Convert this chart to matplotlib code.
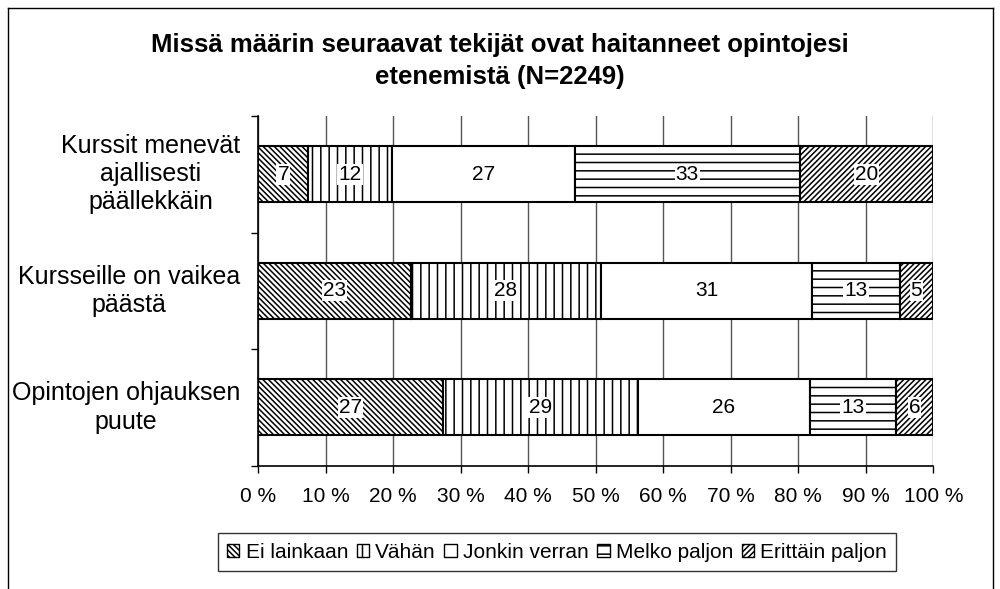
import matplotlib
matplotlib.use("Agg")
import matplotlib.pyplot as plt
import numpy as np
from matplotlib.lines import Line2D
from matplotlib.patches import Patch

plt.rcParams['font.family'] = ['Liberation Sans', 'DejaVu Sans']
plt.rcParams['hatch.linewidth'] = 1.1
plt.rcParams['hatch.color'] = 'black'

title = "Missä määrin seuraavat tekijät ovat haitanneet opintojesi\netenemistä (N=2249)"
categories = ["Kurssit menevät\najallisesti\npäällekkäin",
              "Kursseille on vaikea\npäästä",
              "Opintojen ohjauksen\npuute"]
series_names = ["Ei lainkaan", "Vähän", "Jonkin verran", "Melko paljon", "Erittäin paljon"]
ei_lainkaan = [7.4, 22.6, 27.3]
vahan = [12.4, 28.2, 28.9]
jonkin_verran = [27.1, 31.3, 25.6]
melko_paljon = [33.3, 12.9, 12.6]
erittain_paljon = [19.8, 5.0, 5.6]
xticks = [0, 10, 20, 30, 40, 50, 60, 70, 80, 90, 100]
xtick_labels = [f"{t} %" for t in xticks]

series = [ei_lainkaan, vahan, jonkin_verran, melko_paljon, erittain_paljon]
hatches = ['\\' * 6, '||', '', '--', '/' * 6]

fig = plt.figure(figsize=(10, 5.89), dpi=100)
W, H = 1000, 589
ax = fig.add_axes([258.3 / W, 1 - 465.7 / H, 675 / W, (465.7 - 116) / H])

y = np.arange(len(categories))
left = np.zeros(len(categories))
for vals, name, h in zip(series, series_names, hatches):
    vals = np.array(vals)
    ax.barh(y, vals, left=left, height=0.48, color='white', edgecolor='black',
            linewidth=1.5, hatch=h, label=name, zorder=3)
    for yi, v, l in zip(y, vals, left):
        ax.text(l + v / 2, yi, f"{int(round(v))}", ha='center', va='center',
                fontsize=15, zorder=5,
                bbox=dict(facecolor='white', edgecolor='none', pad=0.8))
    left += vals

ax.set_xlim(0, 100)
ax.set_ylim(2.5, -0.5)
ax.set_xticks(xticks)
ax.set_xticklabels(xtick_labels, fontsize=15)
ax.tick_params(axis='x', direction='out', length=5, width=1, pad=10)
ax.set_yticks([-0.5, 0.5, 1.5, 2.5])
ax.set_yticklabels([])
ax.tick_params(axis='y', direction='out', length=5, width=1)
ax.xaxis.grid(True, color='#555555', linewidth=1, zorder=0)
ax.set_axisbelow(True)
for s in ['top', 'right']:
    ax.spines[s].set_visible(False)
ax.spines['left'].set_linewidth(1.2)
ax.spines['bottom'].set_linewidth(1.2)

for yi, cat in zip(y, categories):
    ax.annotate(cat, xy=(0, yi), xycoords=('axes fraction', 'data'),
                xytext=(-18, 0), textcoords='offset pixels',
                ha='right', va='center', multialignment='center',
                fontsize=18, linespacing=1.22)

fig.text(0.5, 1 - 61 / H, title, ha='center', va='center', fontsize=18.5,
         fontweight='bold', linespacing=1.4)

handles = [Patch(facecolor='white', edgecolor='black', hatch=h, linewidth=1.0, label=n)
           for h, n in zip(hatches, series_names)]
leg = fig.legend(handles=handles, loc='center', bbox_to_anchor=(557 / W, 1 - 552 / H),
                 ncol=5, fontsize=15, frameon=True, fancybox=False,
                 handlelength=0.6, handleheight=0.6, handletextpad=0.3,
                 columnspacing=0.4, borderpad=0.45)
leg.get_frame().set_edgecolor('black')
leg.get_frame().set_linewidth(1.0)

# outer chart frame
x0, x1, y0 = 8 / W, 993 / W, 1 - 8 / H
for xs, ys in [([x0, x0], [y0, 0]), ([x1, x1], [y0, 0]), ([x0, x1], [y0, y0])]:
    fig.add_artist(Line2D(xs, ys, transform=fig.transFigure, color='black', linewidth=1.0))

fig.savefig("out.png", dpi=100, facecolor='white')
